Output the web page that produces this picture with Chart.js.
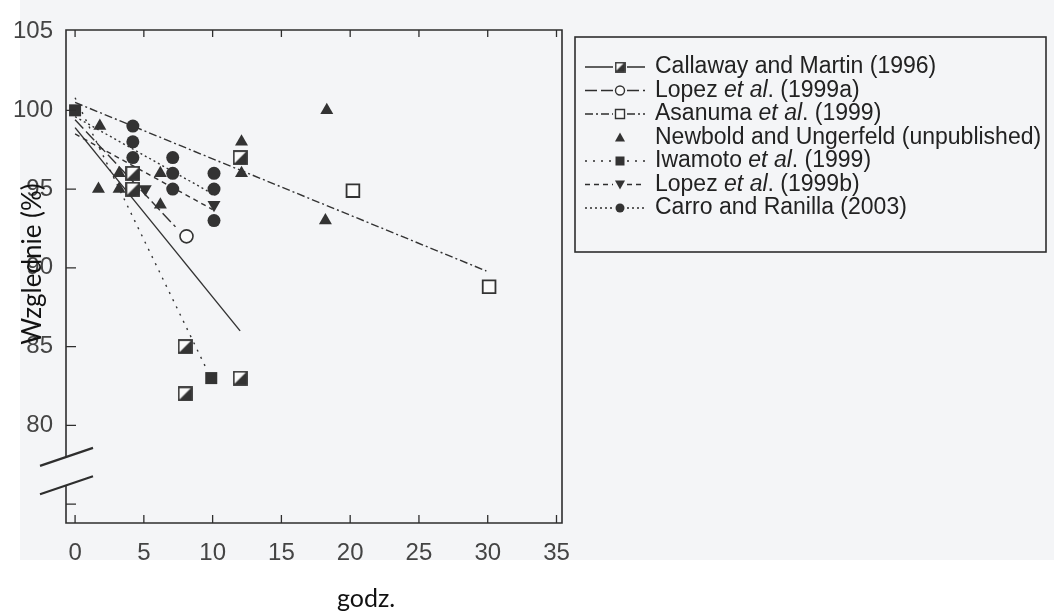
<!DOCTYPE html>
<html>
<head>
<meta charset="utf-8">
<script src="https://cdn.jsdelivr.net/npm/chart.js@4.4.1/dist/chart.umd.min.js"></script>
<style>
  html, body { margin: 0; padding: 0; background: #fff; }
  #wrap { width: 1054px; height: 613px; position: relative; }
</style>
</head>
<body>
<div id="wrap"><canvas id="chart" width="1054" height="613"></canvas></div>
<script>
// === DATA ===
const xTicks = [0, 5, 10, 15, 20, 25, 30, 35];
const yTicks = [75, 80, 85, 90, 95, 100, 105];

const callawayX = [4.2, 4.2, 8, 8, 12, 12];
const callawayY = [96, 95, 85, 82, 97, 83];
const lopezAX = [4.2, 8.1];
const lopezAY = [95, 92];
const asanumaX = [20.2, 30.1];
const asanumaY = [94.9, 88.8];
const newboldX = [1.8, 1.7, 3.2, 3.2, 6.2, 6.2, 12.1, 12.1, 18.3, 18.2];
const newboldY = [99, 95, 96, 95, 96, 94, 98, 96, 100, 93];
const iwamotoX = [0, 9.9];
const iwamotoY = [100, 83];
const lopezBX = [5.1, 10.1];
const lopezBY = [95, 94];
const carroX = [4.2, 4.2, 4.2, 7.1, 7.1, 7.1, 10.1, 10.1, 10.1];
const carroY = [99, 98, 97, 97, 96, 95, 96, 95, 93];

// fitted lines, end points
const callawayFitX = [0, 12];
const callawayFitY = [98.9, 86.0];
const lopezAFitX = [0, 7.3];
const lopezAFitY = [99.4, 92.6];
const asanumaFitX = [0, 29.9];
const asanumaFitY = [100.5, 89.8];
const iwamotoFitX = [0, 9.6];
const iwamotoFitY = [100.8, 83.5];
const lopezBFitX = [0, 10];
const lopezBFitY = [98.5, 93.7];
const carroFitX = [0, 10.2];
const carroFitY = [99.6, 94.6];

const legendLabels = [
  ['Callaway and Martin (1996)'],
  ['Lopez ', 'et al', '. (1999a)'],
  ['Asanuma ', 'et al', '. (1999)'],
  ['Newbold and Ungerfeld (unpublished)'],
  ['Iwamoto ', 'et al', '. (1999)'],
  ['Lopez ', 'et al', '. (1999b)'],
  ['Carro and Ranilla (2003)']
];

const INK = '#333333';
const FONT = '"Liberation Sans", Arial, sans-serif';

const pts = (xs, ys) => xs.map((x, i) => ({x: x, y: ys[i]}));

// half filled square marker
function halfSquare(size) {
  const c = document.createElement('canvas');
  c.width = c.height = size;
  const g = c.getContext('2d');
  g.fillStyle = '#fafafa';
  g.fillRect(1, 1, size - 2, size - 2);
  g.fillStyle = INK;
  g.beginPath();
  g.moveTo(size - 1, 1);
  g.lineTo(size - 1, size - 1);
  g.lineTo(1, size - 1);
  g.closePath();
  g.fill();
  g.strokeStyle = INK;
  g.lineWidth = 1.8;
  g.strokeRect(1, 1, size - 2, size - 2);
  return c;
}
const halfSq = halfSquare(15);
const halfSqSmall = halfSquare(11);

function fitLine(xs, ys, dash) {
  return {
    type: 'line', data: pts(xs, ys), borderColor: INK, borderWidth: 1.4,
    borderDash: dash, pointRadius: 0, fill: false, order: 10
  };
}

const legendSpec = [
  {dash: [], marker: 'half'},
  {dash: [12, 4], marker: 'openCircle'},
  {dash: [8, 3, 2, 3], marker: 'openSquare'},
  {dash: null, marker: 'triangle'},
  {dash: [2, 6], marker: 'square'},
  {dash: [5, 4], marker: 'downTriangle'},
  {dash: [2, 3], marker: 'circle'}
];

function drawMarker(ctx, kind, x, y) {
  ctx.save();
  ctx.fillStyle = INK;
  ctx.strokeStyle = INK;
  ctx.lineWidth = 1.4;
  ctx.setLineDash([]);
  ctx.beginPath();
  if (kind === 'half') {
    ctx.drawImage(halfSqSmall, x - 5.5, y - 5.5);
  } else if (kind === 'openCircle') {
    ctx.fillStyle = '#fafafa';
    ctx.arc(x, y, 4.5, 0, Math.PI * 2); ctx.fill(); ctx.stroke();
  } else if (kind === 'openSquare') {
    ctx.fillStyle = '#fafafa';
    ctx.rect(x - 4.5, y - 4.5, 9, 9); ctx.fill(); ctx.stroke();
  } else if (kind === 'square') {
    ctx.fillRect(x - 4.5, y - 4.5, 9, 9);
  } else if (kind === 'circle') {
    ctx.arc(x, y, 4.5, 0, Math.PI * 2); ctx.fill();
  } else if (kind === 'triangle') {
    ctx.moveTo(x, y - 5); ctx.lineTo(x + 5, y + 4); ctx.lineTo(x - 5, y + 4); ctx.closePath(); ctx.fill();
  } else if (kind === 'downTriangle') {
    ctx.moveTo(x, y + 5); ctx.lineTo(x + 5, y - 4); ctx.lineTo(x - 5, y - 4); ctx.closePath(); ctx.fill();
  }
  ctx.restore();
}

// === DECORATION PLUGIN: background, frame, inward ticks, axis break, legend, titles ===
const figurePlugin = {
  id: 'figure',
  beforeDraw(chart) {
    const ctx = chart.ctx;
    ctx.save();
    ctx.fillStyle = '#ffffff';
    ctx.fillRect(0, 0, chart.width, chart.height);
    ctx.fillStyle = '#f4f5f7';
    ctx.fillRect(20, 0, chart.width - 20, 560);
    ctx.restore();
  },
  afterDraw(chart) {
    const ctx = chart.ctx;
    const a = chart.chartArea;
    const xs = chart.scales.x, ys = chart.scales.y;
    ctx.save();
    ctx.strokeStyle = '#2e2e2e';
    ctx.lineWidth = 1.6;
    ctx.setLineDash([]);

    // frame, left side broken between 78 and 76.2
    const bHi = ys.getPixelForValue(78), bLo = ys.getPixelForValue(76.2);
    ctx.beginPath();
    ctx.moveTo(a.left, bHi); ctx.lineTo(a.left, a.top); ctx.lineTo(a.right, a.top);
    ctx.lineTo(a.right, a.bottom); ctx.lineTo(a.left, a.bottom); ctx.lineTo(a.left, bLo);
    ctx.stroke();

    // inward ticks
    ctx.lineWidth = 1.3;
    ctx.beginPath();
    yTicks.forEach(v => {
      const py = ys.getPixelForValue(v);
      if (v < 105) { ctx.moveTo(a.left, py); ctx.lineTo(a.left + 10, py); }
    });
    xTicks.forEach(v => {
      const px = xs.getPixelForValue(v);
      ctx.moveTo(px, a.bottom); ctx.lineTo(px, a.bottom - 8);
      ctx.moveTo(px, a.top); ctx.lineTo(px, a.top + 7);
    });
    ctx.stroke();

    // axis break marks
    ctx.lineWidth = 2.2;
    ctx.beginPath();
    [bHi, bLo].forEach(py => {
      ctx.moveTo(a.left - 26, py + 9); ctx.lineTo(a.left + 27, py - 9);
    });
    ctx.stroke();

    // legend box
    const lx = 575, ly = 37, lw = 471, lh = 215;
    ctx.lineWidth = 1.6;
    ctx.strokeRect(lx, ly, lw, lh);
    legendLabels.forEach((parts, i) => {
      const y = 67 + i * 23.5;
      const spec = legendSpec[i];
      if (spec.dash) {
        ctx.save();
        ctx.lineWidth = 1.3;
        ctx.setLineDash(spec.dash);
        ctx.beginPath();
        ctx.moveTo(585, y); ctx.lineTo(613, y);
        ctx.moveTo(627, y); ctx.lineTo(645, y);
        ctx.stroke();
        ctx.restore();
      }
      drawMarker(ctx, spec.marker, 620, y);
      let tx = 655;
      ctx.fillStyle = '#222';
      ctx.textBaseline = 'middle';
      ctx.textAlign = 'left';
      parts.forEach((p, k) => {
        ctx.font = (k === 1 ? 'italic ' : '') + '23px ' + FONT;
        ctx.fillText(p, tx, y);
        tx += ctx.measureText(p).width;
      });
    });

    // axis titles
    ctx.fillStyle = '#111';
    ctx.textAlign = 'center';
    ctx.textBaseline = 'middle';
    ctx.font = '25px Lato, "Open Sans", sans-serif';
    ctx.fillText('godz.', 366, 599);
    ctx.translate(33, 264);
    ctx.rotate(-Math.PI / 2);
    ctx.font = '26px Lato, "Open Sans", sans-serif';
    ctx.fillText('Wzglednie (%)', 0, 0);
    ctx.restore();
  }
};

// === CHART ===
const ctx = document.getElementById('chart').getContext('2d');
new Chart(ctx, {
  type: 'scatter',
  data: {
    datasets: [
      {label: 'Iwamoto', data: pts(iwamotoX, iwamotoY), pointStyle: 'rect', pointRadius: 8.5,
        backgroundColor: INK, borderColor: INK, borderWidth: 0, order: 0},
      {label: 'Callaway', data: pts(callawayX, callawayY), pointStyle: halfSq, order: 1},
      {label: 'LopezA', data: pts(lopezAX, lopezAY), pointStyle: 'circle', pointRadius: 6.5,
        backgroundColor: '#fafafa', borderColor: INK, borderWidth: 1.6, order: 2},
      {label: 'Asanuma', data: pts(asanumaX, asanumaY), pointStyle: 'rect', pointRadius: 9,
        backgroundColor: '#fafafa', borderColor: INK, borderWidth: 1.8, order: 3},
      {label: 'Newbold', data: pts(newboldX, newboldY), pointStyle: 'triangle', pointRadius: 7.5,
        backgroundColor: INK, borderColor: INK, borderWidth: 0, order: 4},
      {label: 'LopezB', data: pts(lopezBX, lopezBY), pointStyle: 'triangle', rotation: 180, pointRadius: 7.5,
        backgroundColor: INK, borderColor: INK, borderWidth: 0, order: 5},
      {label: 'Carro', data: pts(carroX, carroY), pointStyle: 'circle', pointRadius: 6.5,
        backgroundColor: INK, borderColor: INK, borderWidth: 0, order: 6},
      fitLine(callawayFitX, callawayFitY, []),
      fitLine(lopezAFitX, lopezAFitY, [12, 4]),
      fitLine(asanumaFitX, asanumaFitY, [8, 3, 2, 3]),
      fitLine(iwamotoFitX, iwamotoFitY, [2, 6]),
      fitLine(lopezBFitX, lopezBFitY, [5, 4]),
      fitLine(carroFitX, carroFitY, [2, 3])
    ]
  },
  options: {
    responsive: false,
    devicePixelRatio: 1,
    animation: false,
    layout: {padding: {top: 30, right: 492, left: 0, bottom: 0}},
    plugins: {legend: {display: false}, tooltip: {enabled: false}},
    scales: {
      x: {
        type: 'linear', min: -0.66, max: 35.4,
        afterBuildTicks: s => { s.ticks = xTicks.map(v => ({value: v})); },
        afterFit: s => { s.height = 90; },
        grid: {display: false}, border: {display: false},
        ticks: {font: {size: 24, family: FONT}, color: '#444', padding: 8, maxRotation: 0}
      },
      y: {
        type: 'linear', min: 73.8, max: 105.1,
        afterBuildTicks: s => { s.ticks = yTicks.map(v => ({value: v})); },
        afterFit: s => { s.width = 66; },
        grid: {display: false}, border: {display: false},
        ticks: {font: {size: 24, family: FONT}, color: '#444', padding: 5,
          callback: v => (v === 75 ? '' : v)}
      }
    }
  },
  plugins: [figurePlugin]
});
</script>
</body>
</html>
